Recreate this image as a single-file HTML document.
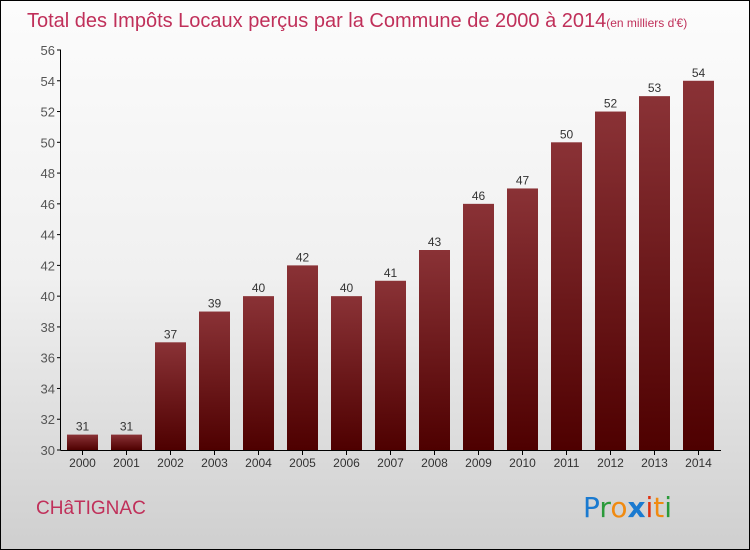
<!DOCTYPE html>
<html><head><meta charset="utf-8"><style>
body{margin:0}
#c{position:relative;width:748px;height:548px;border:1px solid #000;background:linear-gradient(#fcfcfc,#f0f0f0 50%,#cfcfcf);font-family:"Liberation Sans",sans-serif;overflow:hidden}
</style></head><body>
<div id="c">
<svg id="s" width="748" height="548">
<defs><linearGradient id="g" x1="0" y1="0" x2="0" y2="1"><stop offset="0" stop-color="#8a3236"/><stop offset="1" stop-color="#4e0000"/></linearGradient></defs>
<text x="26" y="26" font-size="20" fill="#c0305a">Total des Impôts Locaux perçus par la Commune de 2000 à 2014<tspan font-size="12">(en milliers d'€)</tspan></text>
<text x="35" y="513" font-size="19" fill="#c0305a">CHâTIGNAC</text>
<text x="582" y="516" font-size="28" font-family="'DejaVu Sans',sans-serif"><tspan fill="#1a7ad0">P</tspan><tspan fill="#2a9a3a">r</tspan><tspan fill="#f08a10">o</tspan><tspan fill="#1a7ad0" font-weight="bold">x</tspan><tspan fill="#e03010">i</tspan><tspan fill="#f08a10">t</tspan><tspan fill="#2a9a3a">i</tspan></text>
<g id="ax"></g><g id="bars"></g>
</svg></div>
<script>
const years=["2000","2001","2002","2003","2004","2005","2006","2007","2008","2009","2010","2011","2012","2013","2014"];
const values=[31,31,37,39,40,42,40,41,43,46,47,50,52,53,54];
const ticks=[30,32,34,36,38,40,42,44,46,48,50,52,54,56];
const ns="http://www.w3.org/2000/svg";
const y=v=>449-(v-30)*(400/26);
const x=i=>81.5+i*44;
function mk(t,a,p){const e=document.createElementNS(ns,t);for(const k in a)e.setAttribute(k,a[k]);p.appendChild(e);return e;}
const ax=document.getElementById('ax'),bars=document.getElementById('bars');
const yl=mk('line',{x1:59.5,x2:59.5,y1:y(56),y2:449,stroke:'#000'},ax);


const xl=mk('line',{x1:59.5,x2:720,y1:449.5,y2:449.5,stroke:'#000'},ax);


ticks.forEach(t=>{
 mk('line',{x1:56,x2:60,y1:y(t),y2:y(t),stroke:'#000'},ax);
 const tx=mk('text',{x:54,y:y(t)+5,'text-anchor':'end','font-size':13,fill:'#555'},ax);tx.textContent=t;
 
 
});
years.forEach((yr,i)=>{
 const v=values[i];
 const r=mk('rect',{x:x(i)-15.5,y:y(v),width:31,height:449-y(v),fill:'url(#g)'},bars);
 
 
 const lb=mk('text',{x:x(i),y:y(v)-4,'text-anchor':'middle','font-size':12,fill:'#333'},bars);lb.textContent=v;
 
 
 mk('line',{x1:x(i),x2:x(i),y1:450,y2:454,stroke:'#000'},ax);
 const xt=mk('text',{x:x(i),y:466,'text-anchor':'middle','font-size':12,fill:'#333'},ax);xt.textContent=yr;
 
 
});
</script>
</body></html>
